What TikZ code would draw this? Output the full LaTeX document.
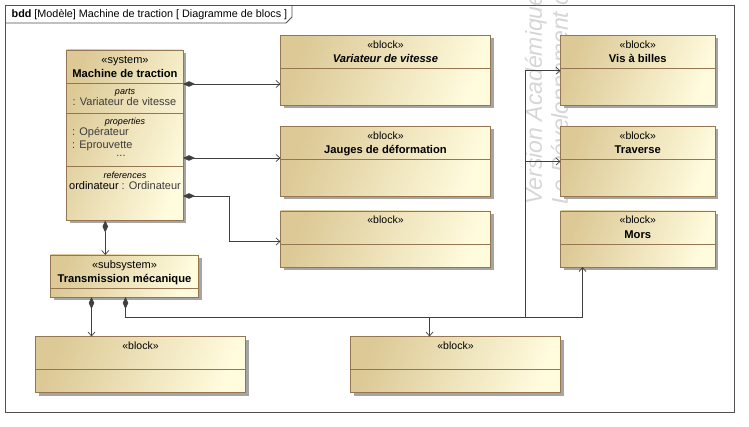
\documentclass[tikz,border=0pt]{standalone}
\usepackage{fontspec}
\setmainfont{Liberation Sans}
\usetikzlibrary{arrows.meta,shadows}
\definecolor{bdark}{RGB}{220,201,150}
\definecolor{blight}{RGB}{255,251,221}
\definecolor{bborder}{RGB}{150,118,82}
\definecolor{shadowc}{RGB}{165,165,165}
\definecolor{linec}{RGB}{64,64,64}
\definecolor{framec}{RGB}{80,80,80}
\definecolor{wmc}{RGB}{214,214,214}
\definecolor{proptext}{RGB}{60,60,60}
\tikzset{
  blk/.style={draw=bborder, line width=0.8pt, left color=bdark, right color=blight, shading angle=70,
    anchor=north west, inner sep=0pt, outer sep=0pt,
    general shadow={fill=shadowc, shadow xshift=3pt, shadow yshift=-3pt}},
  bdiv/.style={draw=bborder, line width=0.8pt},
  txt/.style={inner sep=0pt, text height=0.72em, text depth=0pt, font=\fontsize{11}{13}\selectfont},
  stereo/.style={txt, font=\fontsize{10.5}{12}\selectfont},
  bname/.style={txt, font=\fontsize{11.2}{13}\selectfont\bfseries},
  small/.style={txt, font=\fontsize{9}{11}\selectfont\itshape},
  prop/.style={txt, text=proptext},
  conn/.style={draw=linec, line width=0.75pt},
  comp/.style={conn, {Diamond[length=12pt,width=5.5pt,fill=linec]}-{Straight Barb[length=4pt,width=7pt,line width=0.7pt]}},
  assoc/.style={conn, -{Straight Barb[length=4pt,width=7pt,line width=0.7pt]}},
  wm/.style={inner sep=0pt, text height=0.72em, text depth=0pt, text=wmc, font=\fontsize{23}{26}\selectfont\itshape},
}
\newcommand\mkblock[8]{%
  \node[blk, minimum width=#4pt, minimum height=#5pt] (#1) at (#2,#3) {};
  \draw[bdiv] ([yshift=-33pt]#1.north west) -- ([yshift=-33pt]#1.north east);
  \node[stereo] (#1-st) at ([yshift=-9pt]#1.north) {«#7»};
  \node[bname] (#1-nm) at ([yshift=-23.5pt]#1.north) {#8};
}
\begin{document}
\begin{tikzpicture}[x=1pt,y=-1pt]
\useasboundingbox[fill=white] (0,0) rectangle (749,427);
% frame
\node[draw=framec, line width=0.9pt, fill=white, anchor=north west, minimum width=729pt, minimum height=407pt, inner sep=0pt] (frm) at (5,5) {};
\draw[draw=framec, line width=0.9pt] (5,23) -- (286,23) -- (292,17) -- (292,5);
\node[txt, anchor=west, font=\fontsize{10.8}{13}\selectfont] (ttl) at (11.5,14.3) {\textbf{bdd} [Modèle] Machine de traction [ Diagramme de blocs ]};
% watermark
\node[wm, rotate=90, anchor=south west] (wm1) at (542,205) {Version Académique};
\node[wm, rotate=90, anchor=south west] (wm2) at (568,205) {Le Développement commercial};
% system block
\node[blk, minimum width=116.5pt, minimum height=170.5pt] (mach) at (66.5,50) {};
\draw[bdiv] ([yshift=-33pt]mach.north west) -- ([yshift=-33pt]mach.north east);
\draw[bdiv] ([yshift=-63pt]mach.north west) -- ([yshift=-63pt]mach.north east);
\draw[bdiv] ([yshift=-116pt]mach.north west) -- ([yshift=-116pt]mach.north east);
\node[txt] (mach-st) at (125,59.5) {«system»};
\node[bname] (mach-nm) at (125,73.5) {Machine de traction};
\node[small] (mach-pa) at (125,91) {parts};
\node[prop] (mach-p1) at (124.5,101.5) {: Variateur de vitesse};
\node[small] (mach-pr) at (125,121) {properties};
\node[prop, anchor=west] (mach-o1) at (72,131.5) {: Opérateur};
\node[prop, anchor=west] (mach-o2) at (72,144.5) {: Eprouvette};
\node[prop, text height=1.5pt, anchor=base] (mach-o3) at (121,156.5) {...};
\node[small] (mach-re) at (125,175) {references};
\node[txt] (mach-r1) at (125,185.5) {ordinateur \textcolor{proptext}{: Ordinateur}};
% subsystem
\node[blk, minimum width=148pt, minimum height=42pt] (trans) at (50.5,255) {};
\draw[bdiv] ([yshift=-33.5pt]trans.north west) -- ([yshift=-33.5pt]trans.north east);
\node[txt] (trans-st) at ([yshift=-10pt]trans.north) {«subsystem»};
\node[bname] (trans-nm) at ([yshift=-24.3pt]trans.north) {Transmission mécanique};
% blocks
\mkblock{var}{280.5}{35.5}{210}{70}{33}{block}{\itshape Variateur de vitesse}
\mkblock{jau}{280.5}{126.5}{210}{70}{33}{block}{Jauges de déformation}
\mkblock{blk3}{280.5}{211}{210}{56}{33}{block}{}
\mkblock{vis}{560.5}{35.5}{154.5}{70}{33}{block}{Vis à billes}
\mkblock{tra}{560.5}{126.5}{154.5}{70}{33}{block}{Traverse}
\mkblock{mors}{560.5}{211}{154.5}{56}{33}{block}{Mors}
\mkblock{bl1}{35.5}{336.5}{210}{56}{33}{block}{}
\mkblock{bl2}{350.5}{336.5}{210}{56}{33}{block}{}
% connectors
\draw[comp] ([yshift=-34pt]mach.north east) coordinate (c1) -- (var.west |- c1);
\draw[comp] ([yshift=-108pt]mach.north east) coordinate (c2) -- (jau.west |- c2);
\draw[comp] ([yshift=-146pt]mach.north east) -- ++(46,0) |- ([yshift=-30.5pt]blk3.north west);
\draw[comp] ([xshift=-19.5pt]mach.south) coordinate (c4) -- (trans.north -| c4);
\draw[comp] ([xshift=-33pt]trans.south) coordinate (c5) -- (bl1.north -| c5);
\coordinate (j1) at (429.5,317.5);
\coordinate (j2) at (525.5,317.5);
\coordinate (j3) at (582.5,317.5);
\draw[comp] ([xshift=1pt]trans.south) |- (j1) -- (bl2.north -| j1);
\draw[assoc] (j1) -- (j2) |- ([yshift=-35.2pt]vis.north west);
\draw[assoc] (j2) |- ([yshift=-35pt]tra.north west);
\draw[assoc] (j2) -- (j3) -- (mors.south -| j3);
\end{tikzpicture}
\end{document}
